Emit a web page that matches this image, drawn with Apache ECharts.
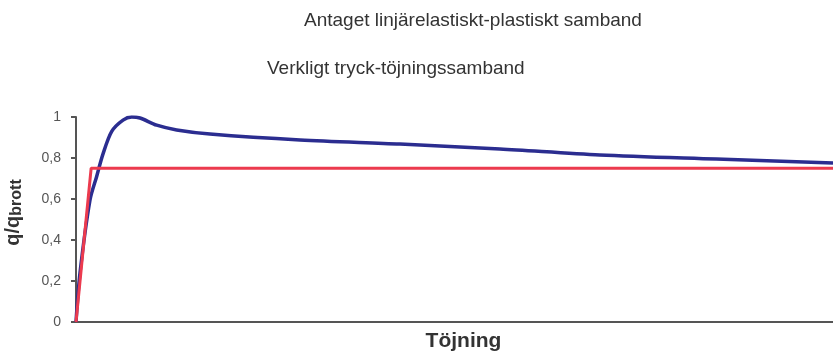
<!DOCTYPE html>
<html>
<head>
<meta charset="utf-8">
<script src="https://cdn.jsdelivr.net/npm/echarts@6/dist/echarts.min.js"></script>
<style>html,body{margin:0;padding:0;background:#fff}#c{width:833px;height:353px}</style>
</head>
<body>
<div id="c"></div>
<script>
// Strain (relative units 0-100) and q/q_brott values
const realStrain = [0, 0.53, 1.85, 2.73, 3.57, 4.72, 6.21, 7.36, 8.45, 10.66, 13.3, 17.7, 29.6, 42.8, 56, 69.2, 84.6, 100];
const realQ      = [0, 0.24, 0.595, 0.71, 0.82, 0.93, 0.985, 1.0, 0.995, 0.96, 0.937, 0.917, 0.888, 0.868, 0.844, 0.815, 0.795, 0.776];
const idealStrain = [0, 2.0, 100];
const idealQ      = [0, 0.75, 0.75];
const yTicks = ['0', '0,2', '0,4', '0,6', '0,8', '1'];
const labelIdeal = 'Antaget linjärelastiskt-plastiskt samband';
const labelReal = 'Verkligt tryck-töjningssamband';
const xName = 'Töjning';

const chart = echarts.init(document.getElementById('c'));
const font = 'Liberation Sans, Arial, sans-serif';
chart.setOption({
  animation: false,
  grid: { left: 76, right: 0, top: 117, bottom: 31, containLabel: false, outerBoundsMode: 'none' },
  xAxis: {
    type: 'value', min: 0, max: 100,
    name: xName, nameLocation: 'middle', nameGap: 9,
    nameTextStyle: { fontFamily: font, fontSize: 21, fontWeight: 'bold', color: '#333', padding: [0, 0, 0, 18] },
    axisLine: { lineStyle: { color: '#555', width: 2 } },
    axisTick: { show: false }, axisLabel: { show: false }, splitLine: { show: false }
  },
  yAxis: {
    type: 'value', min: 0, max: 1, interval: 0.2,
    name: '{a|q/q}{b|brott}', nameLocation: 'middle', nameGap: 51,
    nameTextStyle: {
      padding: [0, 0, 0, 14],
      rich: {
        a: { fontFamily: font, fontSize: 20, fontWeight: 'bold', color: '#333' },
        b: { fontFamily: font, fontSize: 16, fontWeight: 'bold', color: '#333', padding: [7, 0, 0, 0] }
      }
    },
    axisLine: { show: true, lineStyle: { color: '#555', width: 2 } },
    axisTick: { show: true, length: 5, lineStyle: { color: '#555', width: 2 } },
    axisLabel: {
      fontFamily: font, fontSize: 14, color: '#555', margin: 15,
      formatter: (v) => yTicks[Math.round(v / 0.2)]
    },
    splitLine: { show: false }
  },
  series: [
    {
      type: 'line', data: realStrain.map((x, i) => [x, realQ[i]]),
      smooth: 0.3, showSymbol: false,
      lineStyle: { color: '#2b2d90', width: 3.5 }
    },
    {
      type: 'line', data: idealStrain.map((x, i) => [x, idealQ[i]]),
      showSymbol: false,
      lineStyle: { color: '#ec3a4e', width: 3 }
    }
  ],
  graphic: [
    { type: 'text', left: 304, top: 11, style: { text: labelIdeal, fontFamily: font, fontSize: 19, fill: '#333' } },
    { type: 'text', left: 267, top: 59, style: { text: labelReal, fontFamily: font, fontSize: 19, fill: '#333' } }
  ]
});
</script>
</body>
</html>
